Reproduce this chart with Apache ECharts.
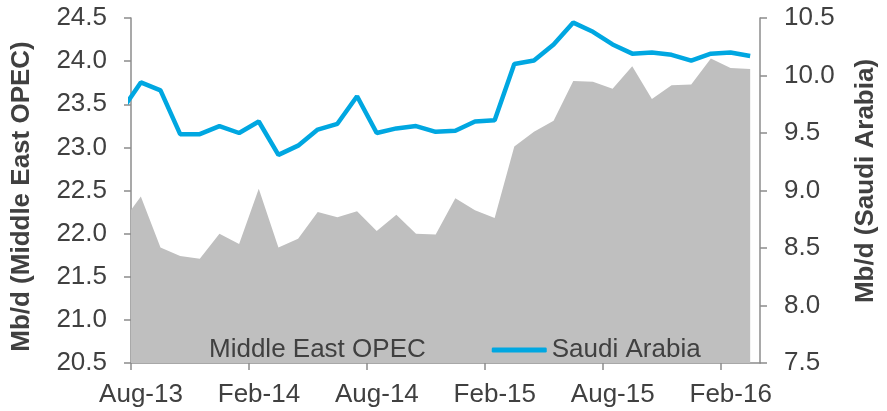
<!DOCTYPE html>
<html>
<head>
<meta charset="utf-8">
<script src="https://cdn.jsdelivr.net/npm/echarts@6/dist/echarts.min.js"></script>
<style>
  html, body { margin: 0; padding: 0; background: #fff; }
  #chart { width: 887px; height: 411px; }
</style>
</head>
<body>
<div id="chart"></div>
<script>
// monthly data, Jul-13 is only partly visible (clipped at the axis)
var months = ["Jul-13", "Aug-13", "Sep-13", "Oct-13", "Nov-13", "Dec-13",
    "Jan-14", "Feb-14", "Mar-14", "Apr-14", "May-14", "Jun-14",
    "Jul-14", "Aug-14", "Sep-14", "Oct-14", "Nov-14", "Dec-14",
    "Jan-15", "Feb-15", "Mar-15", "Apr-15", "May-15", "Jun-15",
    "Jul-15", "Aug-15", "Sep-15", "Oct-15", "Nov-15", "Dec-15",
    "Jan-16", "Feb-16", "Mar-16"];
var opecValues = [22.12, 22.43, 21.84, 21.74, 21.71, 22.00,
    21.88, 22.52, 21.84, 21.94, 22.25, 22.19,
    22.26, 22.03, 22.22, 22.00, 21.99, 22.41,
    22.27, 22.18, 23.01, 23.18, 23.31, 23.77,
    23.76, 23.68, 23.94, 23.56, 23.72, 23.73,
    24.03, 23.92, 23.91];
var saudiValues = [9.69, 9.94, 9.87, 9.49, 9.49, 9.56,
    9.50, 9.60, 9.31, 9.39, 9.53, 9.58,
    9.82, 9.50, 9.54, 9.56, 9.51, 9.52,
    9.60, 9.61, 10.10, 10.13, 10.27, 10.46,
    10.38, 10.27, 10.19, 10.20, 10.18, 10.13,
    10.19, 10.20, 10.17];
var tickLabels = ["Aug-13", "Feb-14", "Aug-14", "Feb-15", "Aug-15", "Feb-16"];

var FONT = "Liberation Sans";
var TEXT = "#404040";
var AXIS = "#8c8c8c";

// month i sits in the middle of its month slot (Aug-13 slot starts at 0)
function pairs(values) {
    return values.map(function (v, i) { return [i - 0.5, v]; });
}

var chart = echarts.init(document.getElementById("chart"));

chart.setOption({
    backgroundColor: "#fff",
    animation: false,
    textStyle: { fontFamily: FONT },
    grid: { left: 131, right: 117, top: 18, bottom: 48, containLabel: false },
    legend: {
        left: 144,
        top: 332,
        itemGap: 66,
        itemWidth: 55,
        itemHeight: 5,
        textStyle: { fontFamily: FONT, fontSize: 26, color: TEXT },
        data: [
            { name: "Middle East OPEC", icon: "rect" },
            { name: "Saudi Arabia", icon: "roundRect" }
        ]
    },
    xAxis: {
        type: "value",
        min: 0,
        max: 32,
        interval: 6,
        splitLine: { show: false },
        axisLine: { lineStyle: { color: AXIS, width: 1.5 } },
        axisTick: { show: true, length: 7, lineStyle: { color: AXIS, width: 1.5 } },
        axisLabel: {
            showMaxLabel: false,
            margin: 19,
            fontSize: 26,
            color: TEXT,
            // labels sit under the middle of the month, not on the tick
            padding: [0, 0, 0, 20],
            formatter: function (v) { return tickLabels[v / 6] || ""; }
        }
    },
    yAxis: [{
        type: "value",
        min: 20.5,
        max: 24.5,
        interval: 0.5,
        position: "left",
        name: "Mb/d (Middle East OPEC)",
        nameLocation: "middle",
        nameGap: 96,
        nameTextStyle: { fontFamily: FONT, fontSize: 26, fontWeight: "bold", color: TEXT, padding: [0, 12, 0, 0] },
        splitLine: { show: false },
        axisLine: { show: true, lineStyle: { color: AXIS, width: 1.5 } },
        axisTick: { show: true, length: 7, lineStyle: { color: AXIS, width: 1.5 } },
        axisLabel: {
            margin: 24,
            fontSize: 26,
            color: TEXT,
            formatter: function (v) { return v.toFixed(1); }
        }
    }, {
        type: "value",
        min: 7.5,
        max: 10.5,
        interval: 0.5,
        position: "right",
        name: "Mb/d (Saudi Arabia)",
        nameLocation: "middle",
        nameGap: 93,
        nameTextStyle: { fontFamily: FONT, fontSize: 26, fontWeight: "bold", color: TEXT, padding: [0, 0, 0, 19] },
        splitLine: { show: false },
        axisLine: { show: true, lineStyle: { color: AXIS, width: 1.5 } },
        axisTick: { show: true, length: 7, lineStyle: { color: AXIS, width: 1.5 } },
        axisLabel: {
            margin: 24,
            fontSize: 26,
            color: TEXT,
            formatter: function (v) { return v.toFixed(1); }
        }
    }],
    series: [{
        name: "Middle East OPEC",
        type: "line",
        yAxisIndex: 0,
        data: pairs(opecValues),
        showSymbol: false,
        symbol: "none",
        clip: true,
        itemStyle: { color: "#bfbfbf" },
        lineStyle: { width: 0, color: "#bfbfbf" },
        areaStyle: { color: "#bfbfbf", opacity: 1, origin: "start" }
    }, {
        name: "Saudi Arabia",
        type: "line",
        yAxisIndex: 1,
        data: pairs(saudiValues),
        showSymbol: false,
        symbol: "none",
        clip: true,
        itemStyle: { color: "#00a7e1" },
        lineStyle: { width: 4.5, color: "#00a7e1" }
    }]
});
</script>
</body>
</html>
